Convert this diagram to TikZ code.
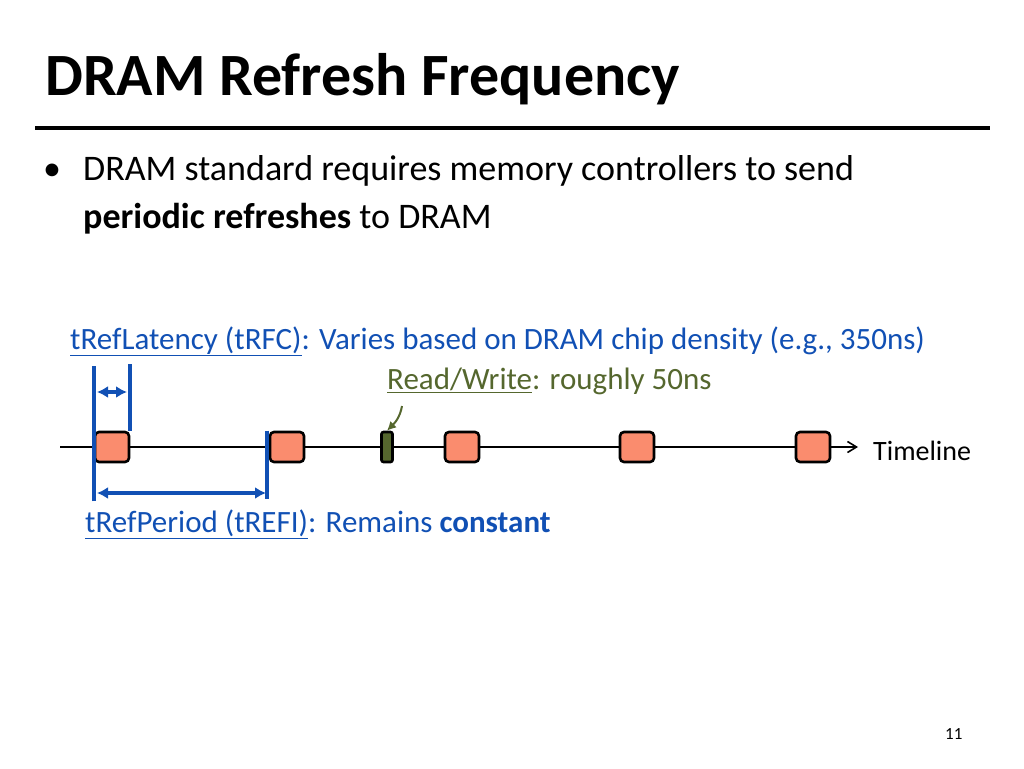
\documentclass[tikz,border=0pt]{standalone}
\usepackage{fontspec}
\setmainfont{Carlito}
\usetikzlibrary{arrows.meta,positioning}
\definecolor{ink}{HTML}{000000}
\definecolor{tblue}{HTML}{1150B4}
\definecolor{tgreen}{HTML}{55672E}
\definecolor{refill}{HTML}{FA8C6E}
\tikzset{
  >=Latex,
  refbox/.style={draw=ink, fill=refill, rounded corners=4pt, line width=2.6pt, minimum width=34pt, minimum height=30pt, inner sep=0pt},
  rwbox/.style={draw=ink, fill=tgreen, rounded corners=2pt, line width=2.6pt, minimum width=11pt, minimum height=30pt, inner sep=0pt},
  bound/.style={draw=tblue, line width=4pt},
  span/.style={{Latex[length=11pt,width=12pt]}-{Latex[length=11pt,width=12pt]}, draw=tblue, line width=4pt},
  txt/.style={font=\fontsize{31}{36}\selectfont, anchor=base west, inner sep=0pt}
}
\begin{document}
\begin{tikzpicture}[x=1pt,y=-1pt]
  \useasboundingbox (0,0) rectangle (1024,768);
  % Title
  \node[anchor=base west, inner sep=0pt, font=\fontsize{60}{64}\selectfont\bfseries] (title) at (45,95) {DRAM Refresh Frequency};
  \draw[line width=3.5pt] (35,128) coordinate (r1) -- (990,128) coordinate (r2);
  % Bullet
  \node[txt, font=\fontsize{36}{42}\selectfont] (bul) at (43,180) {•};
  \node[txt, font=\fontsize{36}{42}\selectfont] (l1) at (83,180) {DRAM standard requires memory controllers to send};
  \node[txt, font=\fontsize{36}{42}\selectfont] (l2) at (83,228) {\textbf{periodic refreshes} to DRAM};

  % Labels
  \node[txt, text=tblue] (trfc) at (70,349) {\underline{tRefLatency (tRFC)}: Varies based on DRAM chip density (e.g., 350ns)};
  \node[txt, text=tgreen] (rw) at (387,389) {\underline{Read/Write}: roughly 50ns};
  \node[txt, text=tblue] (trefi) at (85,532) {\underline{tRefPeriod (tREFI)}: Remains \textbf{constant}};

  % Timeline
  \coordinate (t0) at (60,447);
  \coordinate (t1) at (858,447);
  \draw[line width=1.6pt, -{Straight Barb[length=9pt,width=11pt]}] (t0) -- (t1);
  \node[txt, font=\fontsize{28}{32}\selectfont] (tl) at (873,460) {Timeline};
  \foreach \x [count=\i] in {112,287,462,637,813}
    \node[refbox] (r\i) at (\x,447) {};
  \node[rwbox] (rwb) at (387,447) {};
  \draw[tgreen, line width=2pt, -{Latex[length=9pt,width=9pt]}] (402,406) to[out=-100,in=45] (rwb.north);

  % Markers
  \draw[bound] (r1.south west) ++(0,38) coordinate (m1b) -- ++(0,-135) coordinate (m1t);
  \draw[bound] (r1.north east) -- ++(0,-67) coordinate (m2t);
  \draw[bound] (r2.north west) ++(-2,0) coordinate (m3t) -- ++(0,68) coordinate (m3b);
  \draw[span] (97,392) -- (127,392);
  \draw[span] (97,493) -- (266,493);

  % Page number
  \node[txt, font=\fontsize{17}{20}\selectfont] (pg) at (945,739) {11};
\end{tikzpicture}
\end{document}
